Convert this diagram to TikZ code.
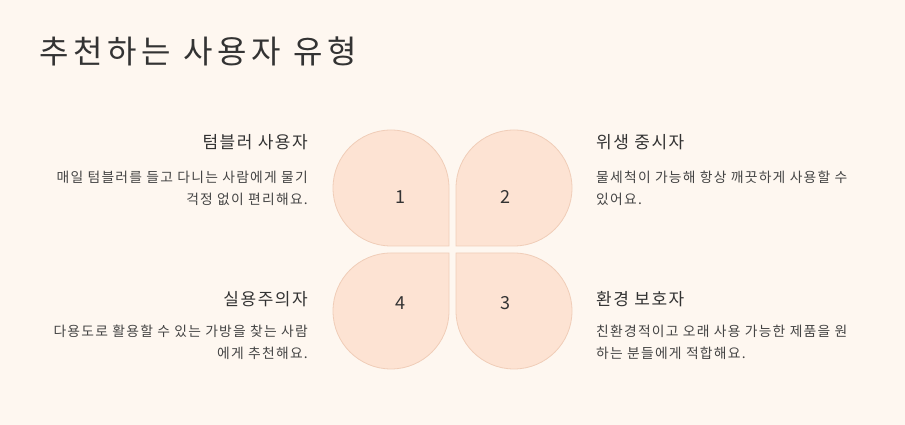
\documentclass[tikz,border=0pt]{standalone}
\usepackage{fontspec}
\setmainfont{Noto Sans CJK KR}
\newfontfamily\spaced[LetterSpace=9]{Noto Sans CJK KR}
\newfontfamily\hspaced[LetterSpace=9]{Noto Sans CJK KR}
\newfontfamily\tspaced[LetterSpace=15]{Noto Sans CJK KR}
\definecolor{bg}{HTML}{FEF7F0}
\definecolor{petal}{HTML}{FDE3D3}
\definecolor{petaledge}{HTML}{F0CDB8}
\definecolor{ink}{HTML}{333333}
\definecolor{body}{HTML}{444444}
\begin{document}
\begin{tikzpicture}[x=1pt,y=1pt,
  petalshape/.style={fill=petal,draw=petaledge,line width=0.8pt},
  num/.style={font=\fontsize{18}{20}\selectfont,text=ink},
  head/.style={font=\hspaced\fontsize{17}{20}\selectfont,text=ink,inner sep=0pt},
  bodyl/.style={font=\spaced\fontsize{13.8}{22}\selectfont,text=body,inner sep=0pt,align=left,anchor=north west},
  bodyr/.style={font=\spaced\fontsize{13.8}{22}\selectfont,text=body,inner sep=0pt,align=right,anchor=north east}]
\fill[bg] (0,0) rectangle (905,425);
\useasboundingbox (0,0) rectangle (905,425);
\node[anchor=west,inner sep=0pt,font=\tspaced\fontsize{32}{36}\selectfont,text=ink] (title) at (39,374) {추천하는 사용자 유형};
\foreach \r in {0,-90,180,90}{
  \begin{scope}[shift={(452.5,175.5)},rotate=\r]
    \draw[petalshape] (-3.5,3.5) -- (-61.5,3.5) arc[start angle=270,end angle=90,radius=58] arc[start angle=90,end angle=0,radius=58] -- cycle;
  \end{scope}}
\node[num] (n1) at (400,228) {1};
\node[num] (n2) at (505,228) {2};
\node[num] (n4) at (400,122) {4};
\node[num] (n3) at (505,122) {3};
\node[head,anchor=east] (h1) at (308,283) {텀블러 사용자};
\node[bodyr] (b1) at (308,254) {매일 텀블러를 들고 다니는 사람에게 물기\\걱정 없이 편리해요.};
\node[head,anchor=west] (h2) at (596,283) {위생 중시자};
\node[bodyl] (b2) at (596,254) {물세척이 가능해 항상 깨끗하게 사용할 수\\있어요.};
\node[head,anchor=east] (h4) at (308,126) {실용주의자};
\node[bodyr] (b4) at (308,100) {다용도로 활용할 수 있는 가방을 찾는 사람\\에게 추천해요.};
\node[head,anchor=west] (h3) at (596,126) {환경 보호자};
\node[bodyl] (b3) at (596,100) {친환경적이고 오래 사용 가능한 제품을 원\\하는 분들에게 적합해요.};
\end{tikzpicture}
\end{document}
